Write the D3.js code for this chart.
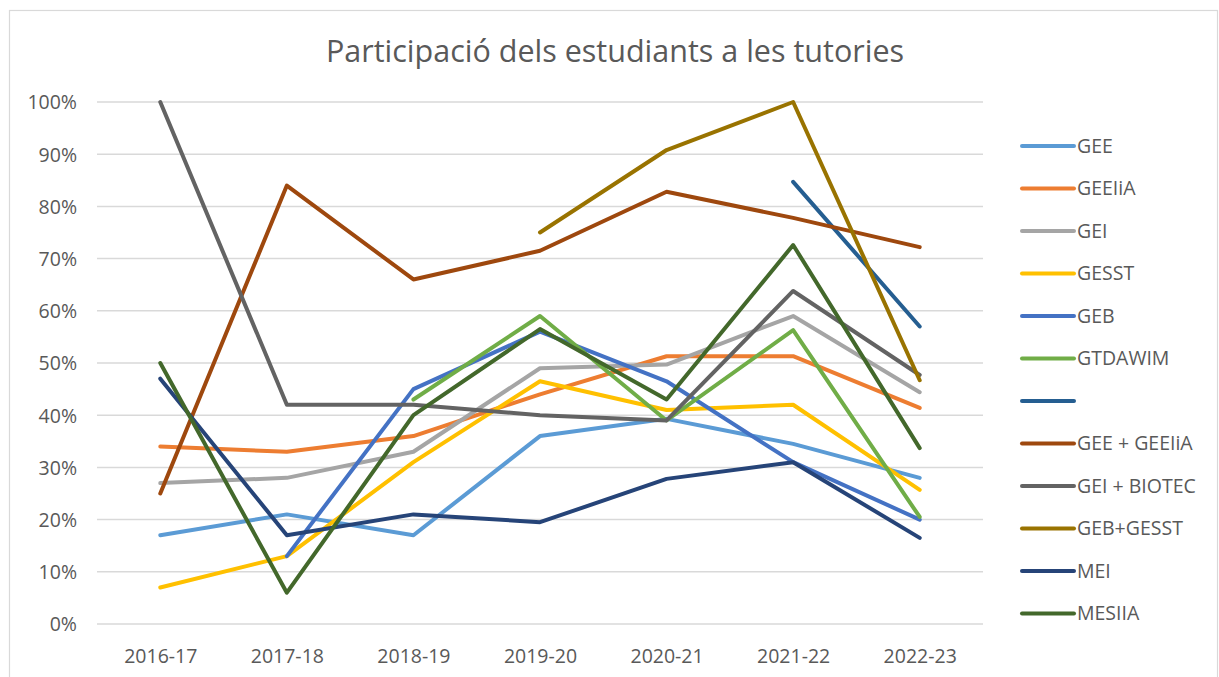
<!DOCTYPE html>
<html>
<head>
<meta charset="utf-8">
<script src="https://cdn.jsdelivr.net/npm/d3@7"></script>
<style>
  body { margin: 0; background: #fff; }
  text { font-family: "Open Sans", "Noto Sans", sans-serif; fill: #595959; }
</style>
</head>
<body>
<div id="chart"></div>
<script>
const years = ["2016-17", "2017-18", "2018-19", "2019-20", "2020-21", "2021-22", "2022-23"]
const yTicks = [0, 0.1, 0.2, 0.3, 0.4, 0.5, 0.6, 0.7, 0.8, 0.9, 1]

const seriesNames = ["GEE", "GEEIiA", "GEI", "GESST", "GEB", "GTDAWIM", "", "GEE + GEEIiA", "GEI + BIOTEC", "GEB+GESST", "MEI", "MESIIA"]
const seriesColors = ["#5B9BD5", "#ED7D31", "#A5A5A5", "#FFC000", "#4472C4", "#70AD47", "#255E91", "#9E480E", "#636363", "#997300", "#264478", "#43682B"]

// null = no value that year
const gee      = [0.17, 0.21, 0.17, 0.36, 0.393, 0.345, 0.28]
const geeiia   = [0.34, 0.33, 0.36, 0.44, 0.513, 0.513, 0.414]
const gei      = [0.27, 0.28, 0.33, 0.49, 0.497, 0.59, 0.444]
const gesst    = [0.07, 0.13, 0.31, 0.465, 0.41, 0.42, 0.257]
const geb      = [null, 0.13, 0.45, 0.56, 0.465, 0.31, 0.20]
const gtdawim  = [null, null, 0.43, 0.59, 0.39, 0.563, 0.205]
const unnamed  = [null, null, null, null, null, 0.847, 0.57]
const geeGeeiia = [0.25, 0.84, 0.66, 0.715, 0.828, 0.778, 0.722]
const geiBiotec = [1.00, 0.42, 0.42, 0.40, 0.39, 0.638, 0.477]
const gebGesst = [null, null, null, 0.75, 0.908, 1.00, 0.467]
const mei      = [0.47, 0.17, 0.21, 0.195, 0.278, 0.31, 0.165]
const mesiia   = [0.50, 0.06, 0.40, 0.565, 0.43, 0.726, 0.337]

const seriesValues = [gee, geeiia, gei, gesst, geb, gtdawim, unnamed, geeGeeiia, geiBiotec, gebGesst, mei, mesiia]

const width = 1219
const height = 677
const margin = { left: 97, right: 236, top: 102, bottom: 53 }

const svg = d3.select("#chart").append("svg")
    .attr("width", width)
    .attr("height", height)

// outer chart border (Excel chart area)
svg.append("rect")
    .attr("x", 9.5)
    .attr("y", 10.5)
    .attr("width", 1208)
    .attr("height", 700)
    .attr("fill", "none")
    .attr("stroke", "#D9D9D9")
    .attr("stroke-width", 1.2)

svg.append("text")
    .attr("x", 615)
    .attr("y", 62)
    .attr("text-anchor", "middle")
    .style("font-size", "30.5px")
    .text("Participació dels estudiants a les tutories")

const x = d3.scalePoint()
    .domain(years)
    .range([margin.left, width - margin.right])
    .padding(0.5)

const y = d3.scaleLinear()
    .domain([0, 1])
    .range([height - margin.bottom, margin.top])

// gridlines
svg.append("g")
    .selectAll("line")
    .data(yTicks)
    .enter().append("line")
    .attr("x1", margin.left)
    .attr("x2", width - margin.right)
    .attr("y1", d => y(d))
    .attr("y2", d => y(d))
    .attr("stroke", "#D9D9D9")
    .attr("stroke-width", 1.5)

const yAxis = svg.append("g")
    .attr("transform", `translate(${margin.left - 20},0)`)
    .call(d3.axisLeft(y).tickValues(yTicks).tickFormat(d3.format(".0%")).tickSize(0).tickPadding(0))
yAxis.select(".domain").remove()
yAxis.selectAll("text")
    .style("font-size", "19.5px")
    .attr("dy", "0.35em")

const xAxis = svg.append("g")
    .attr("transform", `translate(0,${height - margin.bottom})`)
    .call(d3.axisBottom(x).tickSize(0).tickPadding(25))
xAxis.select(".domain").remove()
xAxis.selectAll("text")
    .style("font-size", "19.5px")

const line = d3.line()
    .defined(d => d != null)
    .x((d, i) => x(years[i]))
    .y(d => y(d))

svg.append("g")
    .selectAll("path")
    .data(seriesValues)
    .enter().append("path")
    .attr("d", d => line(d))
    .attr("fill", "none")
    .attr("stroke", (d, i) => seriesColors[i])
    .attr("stroke-width", 4)
    .attr("stroke-linejoin", "round")
    .attr("stroke-linecap", "round")

// legend
const legend = svg.append("g")
    .selectAll("g")
    .data(seriesNames)
    .enter().append("g")
    .attr("transform", (d, i) => `translate(1022,${146 + i * 42.5})`)

legend.append("line")
    .attr("x1", 0)
    .attr("x2", 52)
    .attr("stroke", (d, i) => seriesColors[i])
    .attr("stroke-width", 4)
    .attr("stroke-linecap", "round")

legend.append("text")
    .attr("x", 55)
    .attr("dy", "0.35em")
    .style("font-size", "19.5px")
    .text(d => d)
</script>
</body>
</html>
